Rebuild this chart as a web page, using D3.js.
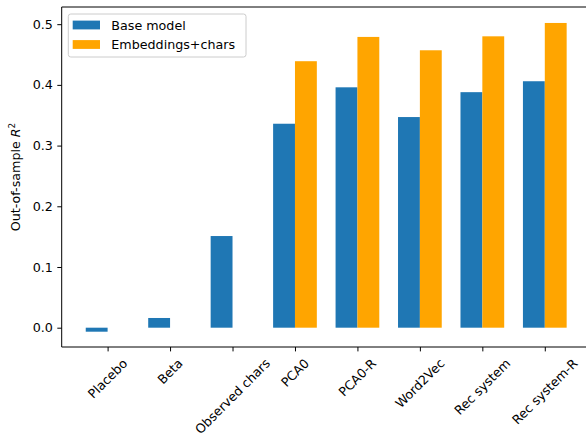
<!DOCTYPE html>
<html>
<head>
<meta charset="utf-8">
<script src="https://cdn.jsdelivr.net/npm/d3@7"></script>
<style>
  body { margin: 0; background: #fff; }
  svg { display: block; font-family: "DejaVu Sans", sans-serif; }
</style>
</head>
<body>
<svg id="chart" width="586" height="437"></svg>
<script>
const categories = ["Placebo", "Beta", "Observed chars", "PCA0", "PCA0-R", "Word2Vec", "Rec system", "Rec system-R"];
const baseModel = [-0.0066, 0.016, 0.151, 0.336, 0.396, 0.347, 0.388, 0.406];
const embeddingsChars = [null, null, null, 0.439, 0.479, 0.457, 0.480, 0.502];
const seriesNames = ["Base model", "Embeddings+chars"];
const seriesColors = ["#1f77b4", "#ffa500"];
const yTicks = [0.0, 0.1, 0.2, 0.3, 0.4, 0.5];

const svg = d3.select("#chart");
const plotL = 61.7, plotT = 7, plotB = 347, plotR = 590.7;
const fs = 12.7;
const barW = 0.35;

const x = d3.scaleLinear().domain([-0.735, 7.735]).range([plotL, plotR]);
const y = d3.scaleLinear().domain([-0.0318, 0.5283]).range([plotB, plotT]);

// bars: base model left of each tick, embeddings+chars right of it
const g = svg.append("g");
const series = [baseModel, embeddingsChars];
series.forEach((vals, s) => {
  g.selectAll(null)
    .data(vals.map((v, i) => ({ v, i })).filter(d => d.v !== null))
    .enter().append("rect")
    .attr("x", d => x(d.i + (s === 0 ? -barW : 0)))
    .attr("width", d => x(barW) - x(0))
    .attr("y", d => y(Math.max(0, d.v)))
    .attr("height", d => Math.abs(y(d.v) - y(0)))
    .attr("fill", seriesColors[s]);
});

// y axis
const yAxis = d3.axisLeft(y).tickValues(yTicks).tickFormat(d3.format(".1f")).tickSize(4.4).tickPadding(4.4);
const ya = svg.append("g").attr("transform", `translate(${plotL},0)`).call(yAxis);
ya.select(".domain").remove();
ya.selectAll("text").attr("font-size", fs).attr("fill", "#000").attr("font-family", "DejaVu Sans");
ya.selectAll("line").attr("stroke", "#000").attr("stroke-width", 1);

// x axis ticks
const xAxis = d3.axisBottom(x).tickValues(d3.range(categories.length)).tickFormat("").tickSize(4.4);
const xa = svg.append("g").attr("transform", `translate(0,${plotB})`).call(xAxis);
xa.select(".domain").remove();
xa.selectAll("line").attr("stroke", "#000").attr("stroke-width", 1);

// rotated category labels, bounding box centred under each tick
const labelTop = plotB + 8.8;
categories.forEach((c, i) => {
  const t = svg.append("text")
    .attr("font-size", fs)
    .attr("text-anchor", "middle")
    .attr("dominant-baseline", "central")
    .text(c);
  const w = t.node().getComputedTextLength();
  const h = fs * 1.16;
  const bb = (w + h) / Math.SQRT2;
  const cx = x(i), cy = labelTop + bb / 2;
  t.attr("x", cx).attr("y", cy).attr("transform", `rotate(-45,${cx},${cy})`);
});

// spines
const spine = (x1, y1, x2, y2) => svg.append("line").attr("x1", x1).attr("y1", y1).attr("x2", x2).attr("y2", y2)
  .attr("stroke", "#000").attr("stroke-width", 1);
spine(plotL, plotT, plotL, plotB);
spine(plotL, plotB, plotR, plotB);
spine(plotL, plotT, plotR, plotT);
spine(plotR, plotT, plotR, plotB);

// y label
const yl = svg.append("text")
  .attr("transform", `translate(20,${(plotT + plotB) / 2}) rotate(-90)`)
  .attr("text-anchor", "middle")
  .attr("font-size", fs);
yl.append("tspan").text("Out-of-sample ");
yl.append("tspan").attr("font-style", "italic").text("R");
yl.append("tspan").attr("font-size", fs * 0.7).attr("dy", -5).text("2");

// legend
const lg = svg.append("g");
lg.append("rect").attr("x", 68.3).attr("y", 14).attr("width", 177.7).attr("height", 43)
  .attr("rx", 2.5).attr("fill", "#fff").attr("fill-opacity", 0.8)
  .attr("stroke", "#cccccc").attr("stroke-width", 1);
seriesNames.forEach((n, s) => {
  const cy = 25 + s * 19.5;
  lg.append("rect").attr("x", 72.7).attr("y", cy - 4.4).attr("width", 27.3).attr("height", 8.8).attr("fill", seriesColors[s]);
  lg.append("text").attr("x", 111.3).attr("y", cy).attr("dominant-baseline", "central")
    .attr("font-size", fs).attr("fill", "#000").text(n);
});
</script>
</body>
</html>
